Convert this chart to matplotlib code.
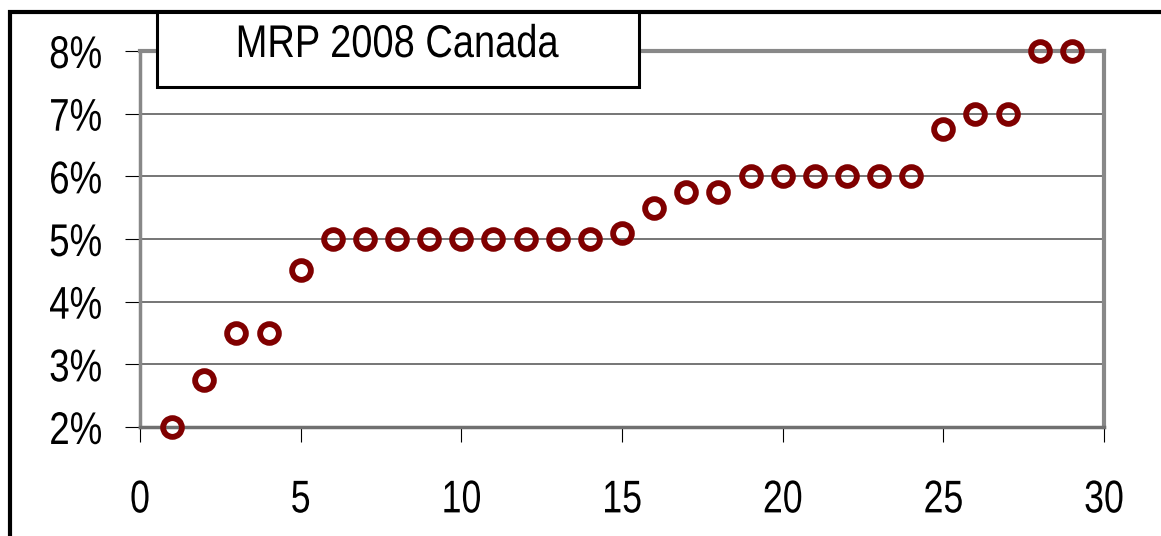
import matplotlib
matplotlib.use("Agg")
import matplotlib.pyplot as plt
from matplotlib.patches import Rectangle
from matplotlib.patheffects import AbstractPathEffect
from matplotlib.transforms import Affine2D
from matplotlib.ticker import FuncFormatter

# market risk premium survey answers, sorted
obs = list(range(1, 30))
mrp = [2.0, 2.75, 3.5, 3.5, 4.5, 5.0, 5.0, 5.0, 5.0, 5.0, 5.0, 5.0, 5.0, 5.0,
       5.1, 5.5, 5.75, 5.75, 6.0, 6.0, 6.0, 6.0, 6.0, 6.0, 6.75, 7.0, 7.0, 8.0, 8.0]
x_ticks = [0, 5, 10, 15, 20, 25, 30]
y_ticks = [2, 3, 4, 5, 6, 7, 8]
title = "MRP 2008 Canada"

plt.rcParams["font.family"] = ["Liberation Sans", "DejaVu Sans"]


class Narrow(AbstractPathEffect):
    """Squeeze glyphs horizontally to mimic a narrow typeface."""

    def __init__(self, sx=0.8, anchor="center"):
        super().__init__()
        self.sx = sx
        self.anchor = anchor

    def draw_path(self, renderer, gc, tpath, affine, rgbFace=None):
        ext = tpath.get_extents(affine)
        x0 = {"left": ext.x0, "right": ext.x1}.get(self.anchor, (ext.x0 + ext.x1) / 2)
        t = affine + Affine2D().translate(-x0, 0).scale(self.sx, 1).translate(x0, 0)
        renderer.draw_path(gc, tpath, t, rgbFace)


W, H = 1161, 536
fig = plt.figure(figsize=(W / 100, H / 100), dpi=100)
ax = fig.add_axes([140 / W, (H - 427) / H, (1104 - 140) / W, (427 - 51) / H])

ax.plot(obs, mrp, linestyle="none", marker="o", markersize=13.5,
        markerfacecolor="none", markeredgecolor="#800000", markeredgewidth=4.2,
        clip_on=False, zorder=5)

ax.set_xlim(0, 30)
ax.set_ylim(2, 8)
ax.set_xticks(x_ticks)
ax.set_yticks(y_ticks)
ax.yaxis.set_major_formatter(FuncFormatter(lambda v, p: f"{v:.0f}%"))
ax.grid(axis="y", color="#505050", linewidth=1.1)
ax.set_axisbelow(True)

ax.tick_params(axis="both", direction="out", length=11, width=0.8, color="black",
               labelsize=33)
ax.tick_params(axis="y", pad=16)
ax.tick_params(axis="x", pad=26)

for lbl in ax.get_yticklabels():
    lbl.set_path_effects([Narrow(0.8, "right")])
for lbl in ax.get_xticklabels():
    lbl.set_path_effects([Narrow(0.78, "center")])

for side in ["top", "right"]:
    ax.spines[side].set_color("#888888")
    ax.spines[side].set_linewidth(3)
ax.spines["left"].set_color("#888888")
ax.spines["left"].set_linewidth(2.5)
ax.spines["bottom"].set_color("#707070")
ax.spines["bottom"].set_linewidth(2.5)

# outer frame and title box
fig.patches.append(Rectangle((10 / W, -0.5), 1.5, (H - 12) / H + 0.5,
                             transform=fig.transFigure, fill=False,
                             edgecolor="black", linewidth=3))
fig.patches.append(Rectangle((157 / W, (H - 87) / H), (639 - 157) / W, (87 - 12) / H,
                             transform=fig.transFigure, facecolor="white",
                             edgecolor="black", linewidth=2.2, zorder=10))
fig.text(397 / W, (H - 45) / H, title, ha="center", va="center", fontsize=33,
         zorder=11, path_effects=[Narrow(0.83, "center")])

fig.savefig("out.png", dpi=100)
